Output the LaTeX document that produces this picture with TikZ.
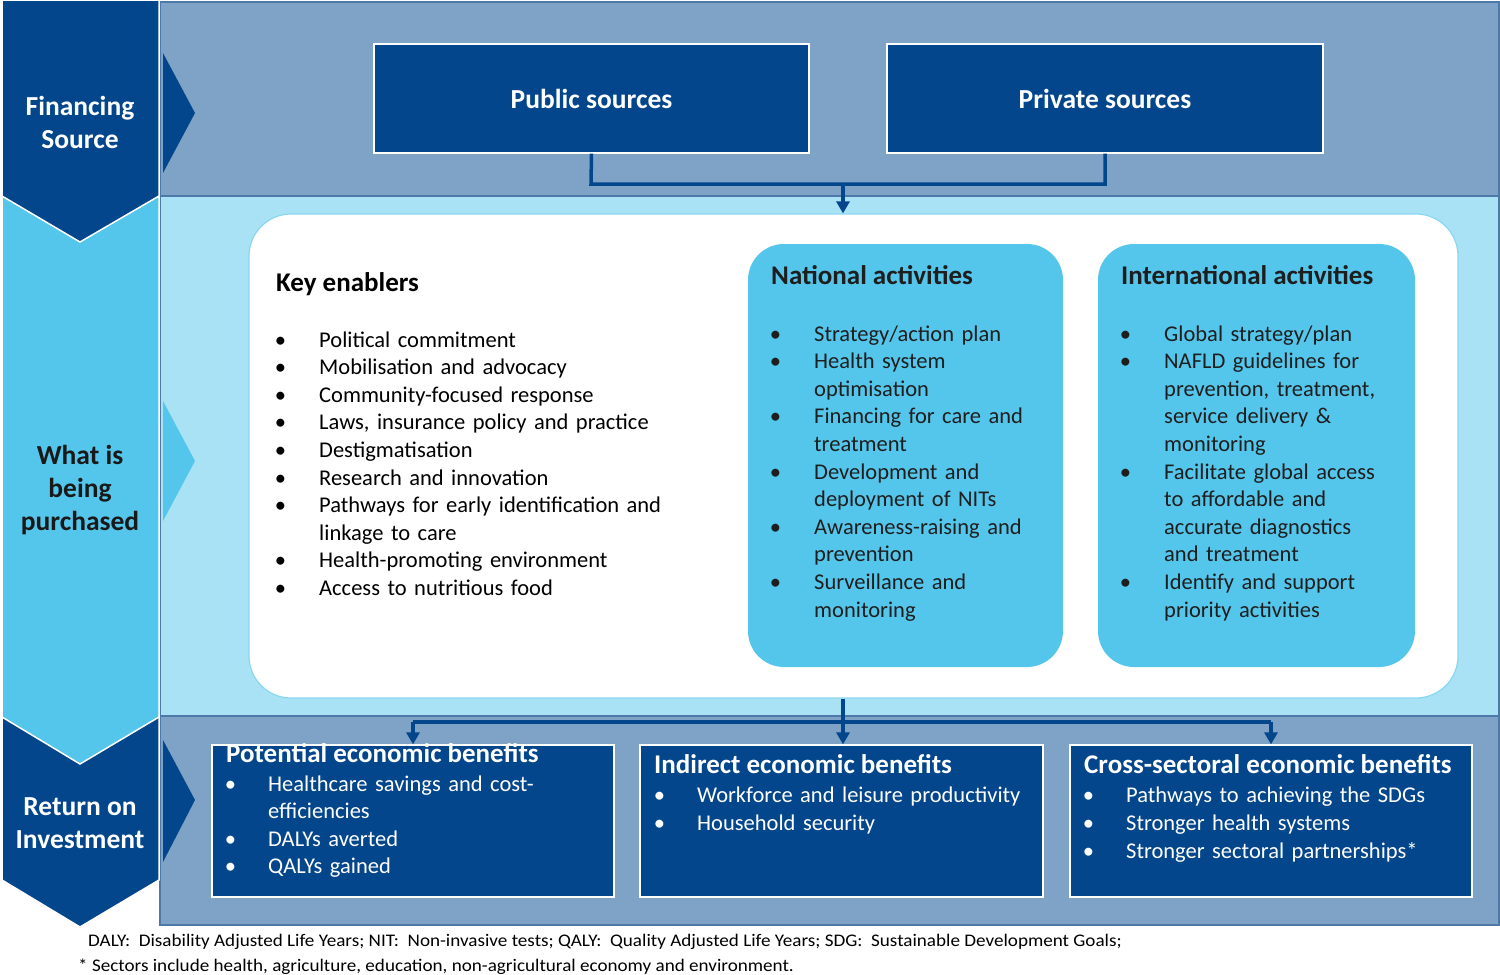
\documentclass[tikz,border=0pt]{standalone}
\usepackage{fontspec}
\setmainfont{Carlito}
\newfontfamily\fnfont[FakeStretch=1.08]{Carlito}
\usetikzlibrary{arrows.meta}
\definecolor{dkblue}{HTML}{03468B}
\definecolor{steel}{HTML}{7FA3C6}
\definecolor{ltcyan}{HTML}{A9E2F4}
\definecolor{cyanbox}{HTML}{55C6EB}
\definecolor{bandline}{HTML}{4D78A8}
\definecolor{txtdark}{HTML}{1E1E1E}
\newlength{\myhang}
\setlength{\myhang}{45pt}
\newlength{\bulx}
\setlength{\bulx}{0.6pt}
\newcommand{\bitem}[1]{\noindent\hangindent=\myhang\hangafter=1\hbox to \myhang{\hspace{\bulx}\textbullet\hfil}#1\par}
\tikzset{
  band/.style={draw=bandline, line width=1.2pt},
  chev/.style={draw=white, line width=1.5pt},
  srcbox/.style={fill=dkblue, draw=white, line width=1.2pt},
  benbox/.style={fill=dkblue, draw=white, line width=1.2pt},
  actbox/.style={fill=cyanbox, rounded corners=36pt},
  conn/.style={draw=dkblue, line width=3.5pt},
  arr/.style={conn, -{Triangle[width=13pt,length=12pt]}},
  lefttxt/.style={font=\fontsize{27.5}{33}\selectfont\bfseries, align=center},
  boxtitle/.style={text=white, font=\fontsize{27.5}{30}\selectfont\bfseries},
  ttl/.style={anchor=base west, inner sep=0pt, font=\fontsize{27}{30}\selectfont\bfseries},
  lst/.style={anchor=base west, inner sep=0pt, text width=#1, font=\fontsize{22.5}{27.6}\selectfont},
}
\begin{document}
\begin{tikzpicture}[x=1pt, y=-1pt]
\useasboundingbox (0,0) rectangle (1500,975);
% bands
\fill[white] (0,0) rectangle (1500,975);
\draw[band, fill=steel] (160,2) rectangle (1499,196);
\draw[band, fill=ltcyan] (160,196) rectangle (1499,716);
\draw[band, fill=steel] (160,716) rectangle (1499,925);
% chevrons
\draw[chev, fill=dkblue] (2,716) -- (159,716) -- (159,880) -- (80,927) -- (2,880) -- cycle;
\draw[chev, fill=cyanbox] (2,197) -- (159,197) -- (159,717) -- (80,764) -- (2,717) -- cycle;
\draw[chev, fill=dkblue] (2,0) -- (159,0) -- (159,196) -- (80,242) -- (2,196) -- cycle;
% small triangles
\fill[dkblue] (163,53) -- (195,113) -- (163,173) -- cycle;
\fill[cyanbox] (163,401) -- (195,461) -- (163,521) -- cycle;
\fill[dkblue] (163,740) -- (195,800) -- (163,862) -- cycle;
% left labels
\node[lefttxt, text=white] (lfin) at (80,122) {Financing\\Source};
\node[lefttxt, text=black!90] (lwhat) at (80,490) {What is\\being\\purchased};
\node[lefttxt, text=white] (lroi) at (80,823) {Return on\\Investment};
% source boxes
\node[srcbox, minimum width=435pt, minimum height=109pt, inner sep=0pt] (pub) at (591.5,98.5) {};
\node[boxtitle] at (pub.center) {Public sources};
\node[srcbox, minimum width=436pt, minimum height=109pt, inner sep=0pt] (priv) at (1105,98.5) {};
\node[boxtitle] at (priv.center) {Private sources};
% purchase box
\node[fill=white, draw=cyanbox!70, line width=1.2pt, rounded corners=42pt, minimum width=1209pt, minimum height=484pt, inner sep=0pt] (main) at (853.5,456) {};
\node[actbox, minimum width=315pt, minimum height=423pt, inner sep=0pt] (nat) at (905.5,455.5) {};
\node[actbox, minimum width=317pt, minimum height=423pt, inner sep=0pt] (intl) at (1256.5,455.5) {};
% top connector
\coordinate (jtop) at (843,184);
\draw[conn] (pub.south) -- (591,184) -- (1105,184) -- (priv.south);
\draw[arr] (jtop) -- (main.north -| jtop);
% key enablers
\node[ttl, text=black] (keyt) at (276,291) {Key enablers};
\node[lst=440pt, text=black] (keyl) at (274,347) {\raggedright
\bitem{Political commitment}
\bitem{Mobilisation and advocacy}
\bitem{Community-focused response}
\bitem{Laws, insurance policy and practice}
\bitem{Destigmatisation}
\bitem{Research and innovation}
\bitem{Pathways for early identification and\newline linkage to care}
\bitem{Health-promoting environment}
\bitem{Access to nutritious food}};
% national
\node[ttl, text=txtdark] (natt) at (771,284) {National activities};
\node[lst=300pt, text=txtdark] (natl) at (769,341) {\raggedright
\bitem{Strategy/action plan}
\bitem{Health system\newline optimisation}
\bitem{Financing for care and\newline treatment}
\bitem{Development and\newline deployment of NITs}
\bitem{Awareness-raising and\newline prevention}
\bitem{Surveillance and\newline monitoring}};
% international
\node[ttl, text=txtdark] (intt) at (1121,284) {International activities};
\node[lst=300pt, text=txtdark] (intl2) at (1119,341) {\raggedright
\bitem{Global strategy/plan}
\bitem{NAFLD guidelines for\newline prevention, treatment,\newline service delivery \&\newline monitoring}
\bitem{Facilitate global access\newline to affordable and\newline accurate diagnostics\newline and treatment}
\bitem{Identify and support\newline priority activities}};
% benefit boxes
\node[benbox, minimum width=402pt, minimum height=152pt, inner sep=0pt] (pot) at (413,821) {};
\node[benbox, minimum width=403pt, minimum height=152pt, inner sep=0pt] (ind) at (841.5,821) {};
\node[benbox, minimum width=402pt, minimum height=152pt, inner sep=0pt] (cross) at (1271,821) {};
% bottom connectors
\coordinate (jbot) at (843,722);
\draw[conn] (413,722) -- (1271,722);
\draw[arr] (main.south -| jbot) -- (ind.north -| jbot);
\draw[arr] (413,722) -- (pot.north);
\draw[arr] (1271,722) -- (cross.north);
% benefit texts
\node[ttl, text=white] (pott) at (226,762) {Potential economic benefits};
\node[lst=370pt, text=white] (potl) at (230,791) {\setlength{\myhang}{38pt}\setlength{\bulx}{-5.4pt}\raggedright
\bitem{Healthcare savings and cost-\newline efficiencies}
\bitem{DALYs averted}
\bitem{QALYs gained}};
\node[ttl, text=white] (indt) at (654,773) {Indirect economic benefits};
\node[lst=370pt, text=white, font=\fontsize{22.5}{28.5}\selectfont] (indl) at (659,802) {\setlength{\myhang}{38pt}\setlength{\bulx}{-5.4pt}\raggedright
\bitem{Workforce and leisure productivity}
\bitem{Household security}};
\node[ttl, text=white] (crosst) at (1084,773) {Cross-sectoral economic benefits};
\node[lst=370pt, text=white, font=\fontsize{22.5}{28}\selectfont] (crossl) at (1088,802) {\setlength{\myhang}{38pt}\setlength{\bulx}{-5.4pt}\raggedright
\bitem{Pathways to achieving the SDGs}
\bitem{Stronger health systems}
\bitem{Stronger sectoral partnerships*}};
% footnotes
\node[anchor=base west, inner sep=0pt, font=\fnfont\fontsize{17.7}{20}\selectfont, text=black] (fn1) at (88,946) {DALY:\ \ Disability Adjusted Life Years; NIT:\ \ Non-invasive tests; QALY:\ \ Quality Adjusted Life Years; SDG:\ \ Sustainable Development Goals;};
\node[anchor=base west, inner sep=0pt, font=\fnfont\fontsize{17.7}{20}\selectfont, text=black] (fn2) at (78,971) {* Sectors include health, agriculture, education, non-agricultural economy and environment.};
\end{tikzpicture}
\end{document}
